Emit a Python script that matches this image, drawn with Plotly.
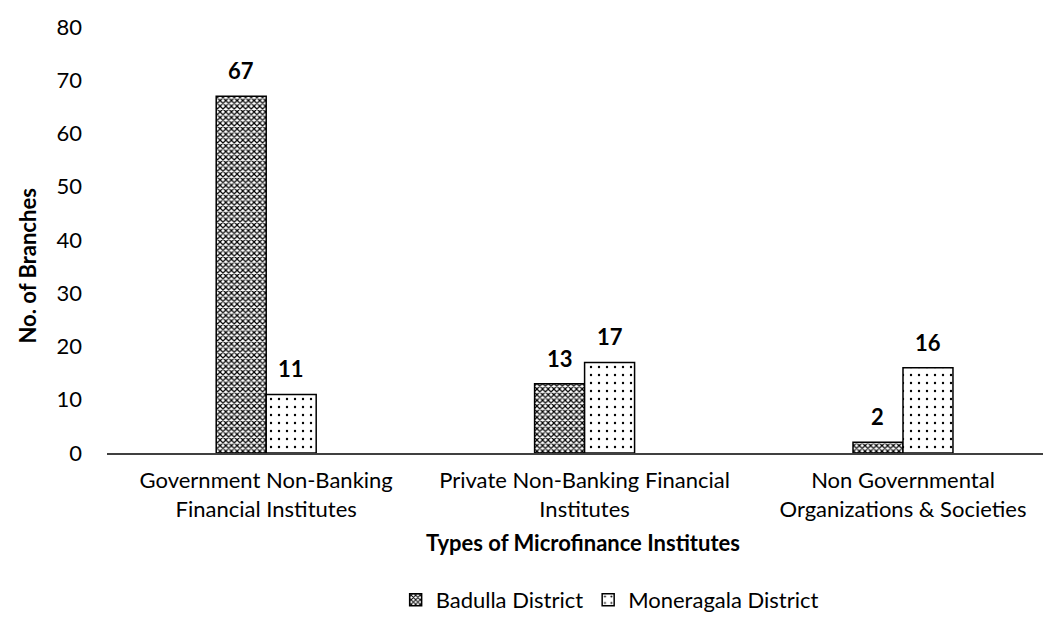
import plotly.graph_objects as go

categories = ["Government Non-Banking<br>Financial Institutes",
              "Private Non-Banking Financial<br>Institutes",
              "Non Governmental<br>Organizations & Societies"]
series_names = ["Badulla District", "Moneragala District"]
badulla = [67, 13, 2]
moneragala = [11, 17, 16]

FONT = "Lato, 'Open Sans', sans-serif"
FS = 22

fig = go.Figure()
fig.add_trace(go.Bar(
    name=series_names[0], x=categories, y=badulla,
    marker=dict(color="white", line=dict(color="black", width=1.5),
                pattern=dict(shape="x", size=4, solidity=0.5, fgcolor="black",
                             bgcolor="white", fillmode="replace")),
))
fig.add_trace(go.Bar(
    name=series_names[1], x=categories, y=moneragala,
    marker=dict(color="white", line=dict(color="black", width=1.5),
                pattern=dict(shape=".", size=8, solidity=0.07, fgcolor="black",
                             bgcolor="white", fillmode="replace")),
))

# data labels above each bar
for vals, xs in ((badulla, -25), (moneragala, 25)):
    for c, v in zip(categories, vals):
        fig.add_annotation(x=c, y=v, text=f"<b>{v}</b>", showarrow=False,
                           xshift=xs, yshift=10, yanchor="bottom",
                           font=dict(size=FS, color="black", family=FONT))

# y-axis title (placed as in the reference, slightly below the plot centre)
fig.add_annotation(xref="paper", yref="paper", x=-0.083, y=0.44,
                   text="<b>No. of Branches</b>", textangle=-90, showarrow=False,
                   xanchor="center", yanchor="middle",
                   font=dict(size=FS, color="black", family=FONT))

fig.update_layout(
    width=1051, height=630,
    paper_bgcolor="white", plot_bgcolor="white",
    margin=dict(l=99, r=0, t=18.5, b=185),
    barmode="group", bargap=0.686, bargroupgap=0,
    font=dict(family=FONT, size=FS, color="black"),
    showlegend=True,
    legend=dict(orientation="h", x=0.528, xanchor="center", y=-0.345, yanchor="middle",
                font=dict(size=FS), itemwidth=30, tracegroupgap=0),
    xaxis=dict(showline=True, linecolor="#404040", linewidth=1.5, ticks="",
               range=[-0.5, 2.49], tickfont=dict(size=FS), ticklabelstandoff=7,
               title=dict(text="<b>Types of Microfinance Institutes</b>",
                          font=dict(size=FS), standoff=15)),
    yaxis=dict(range=[0, 80], dtick=10, showgrid=False, zeroline=False, showline=False,
               tickfont=dict(size=FS), ticks="", ticklabelstandoff=24),
)

fig.write_html("out.html")
